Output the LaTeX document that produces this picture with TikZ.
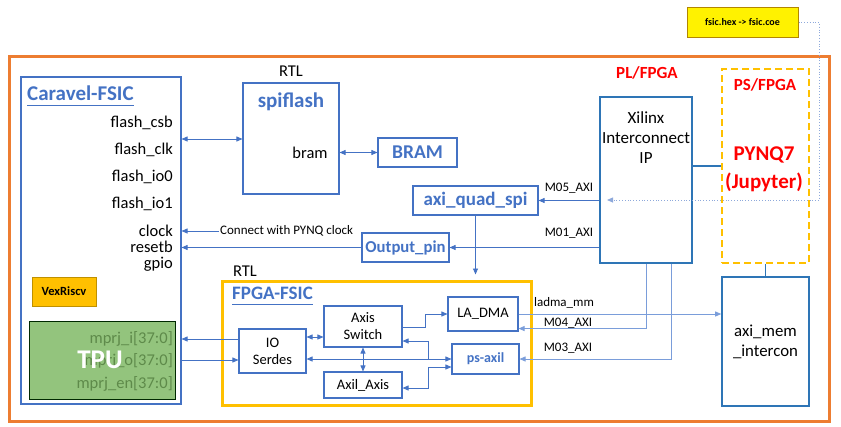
\documentclass[tikz,border=0pt]{standalone}
\usepackage{fontspec}
\setmainfont{Carlito}
\usepackage{tikz}
\usetikzlibrary{arrows.meta,positioning}
\definecolor{blu}{HTML}{4472C4}
\definecolor{dblu}{HTML}{2E75B6}
\definecolor{lblu}{HTML}{7A9DDA}
\definecolor{dotblu}{HTML}{8EA9DB}
\definecolor{org}{HTML}{ED7D31}
\definecolor{gold}{HTML}{FFC000}
\definecolor{tpug}{HTML}{93C47D}
\definecolor{tpuk}{HTML}{5E8A4A}
\definecolor{rd}{HTML}{FF0000}

\begin{document}
\begin{tikzpicture}[x=1pt,y=-1pt,>={Triangle[length=6pt,width=5pt]},
  box/.style={draw=blu,line width=1.1pt,inner sep=0pt,align=center,font=\fontsize{14.5}{17}\selectfont},
  bigbox/.style={draw=dblu,line width=1.6pt,inner sep=0pt,align=center,font=\fontsize{16.8}{20}\selectfont},
  wire/.style={draw=blu,line width=0.8pt},
  lwire/.style={draw=lblu,line width=0.8pt},
  lbl/.style={inner sep=0pt,font=\fontsize{16.5}{20}\selectfont},
  sm/.style={inner sep=1pt,font=\fontsize{13}{15}\selectfont},
  ttl/.style={inner sep=0pt,text=blu,font=\bfseries\fontsize{20}{24}\selectfont},
  rtxt/.style={inner sep=0pt,text=rd,font=\bfseries\fontsize{17}{20}\selectfont}]
  \useasboundingbox (0,0) rectangle (841,426);
  \node[draw=org,line width=3pt,minimum width=820,minimum height=365] (outer) at (419,238.5) {};

  \node[box,minimum width=160,minimum height=327] (car) at (101,240.5) {};
  \node[ttl,anchor=west,font=\bfseries\fontsize{21}{24}\selectfont] (cart) at (27,93) {Caravel-FSIC};
  \draw[blu,line width=0.6pt] ([yshift=-5pt]cart.south west) -- ([yshift=-5pt]cart.south east);
  \node[lbl,anchor=east] (csb) at (173,123) {flash\_csb};
  \node[lbl,anchor=east] (clk) at (173,150) {flash\_clk};
  \node[lbl,anchor=east] (io0) at (173,177) {flash\_io0};
  \node[lbl,anchor=east] (io1) at (173,204) {flash\_io1};
  \node[lbl,anchor=east] (clock) at (173,231) {clock};
  \node[lbl,anchor=east] (rst) at (173,247) {resetb};
  \node[lbl,anchor=east] (gpio) at (173,264) {gpio};
  \node[draw=gold!75!black,line width=0.6pt,fill=gold,minimum width=64,minimum height=29,inner sep=0pt,
    font=\bfseries\fontsize{12.5}{15}\selectfont] (vex) at (64,291.5) {VexRiscv};
  \node[draw=black!60!green!40!black,line width=1pt,fill=tpug,minimum width=146,minimum height=78] (tpu) at (102,360) {};
  \node[lbl,anchor=east,text=tpuk] (mi) at (173,339) {mprj\_i[37:0]};
  \node[lbl,anchor=east,text=tpuk] (mo) at (173,361) {mprj\_o[37:0]};
  \node[lbl,anchor=east,text=tpuk] (me) at (173,384) {mprj\_en[37:0]};
  \node[inner sep=0pt,text=white,font=\bfseries\fontsize{27}{30}\selectfont] (tputxt) at (100,360) {TPU};

  \node[box,minimum width=96,minimum height=111] (spi) at (291,138.5) {};
  \node[lbl] (rtl1) at (291,71) {RTL};
  \node[ttl,font=\bfseries\fontsize{21}{24}\selectfont] (spit) at (291,102) {spiflash};
  \node[lbl] (bramt) at (310,153) {bram};
  \node[box,minimum width=79,minimum height=29,text=blu,font=\bfseries\fontsize{19.5}{22}\selectfont] (bram) at (417.5,152.5) {BRAM};
  \node[box,minimum width=125,minimum height=29,text=blu,font=\bfseries\fontsize{19}{22}\selectfont] (quad) at (475.5,200.5) {axi\_quad\_spi};
  \node[box,minimum width=87,minimum height=29,text=blu,font=\bfseries\fontsize{16.7}{20}\selectfont] (opin) at (405.5,247.5) {Output\_pin};

  \node[bigbox,minimum width=92,minimum height=166] (xil) at (646,180) {};
  \node[inner sep=0pt,align=center,font=\fontsize{17}{20}\selectfont] (xilt) at (646,138) {Xilinx\\Interconnect\\IP};
  \node[rtxt] (pl) at (647,73) {PL/FPGA};
  \node[draw=gold,line width=1.8pt,dash pattern=on 7pt off 4pt,minimum width=87,minimum height=194] (ps) at (765.5,166) {};
  \node[rtxt] (pst) at (765,85) {PS/FPGA};
  \node[rtxt,align=center,font=\bfseries\fontsize{21}{28}\selectfont] (pynq) at (764,169) {PYNQ7\\(Jupyter)};
  \node[bigbox,minimum width=87,minimum height=129] (mem) at (765.5,341.5) {axi\_mem\\\_intercon};
  \node[draw=gold!70!black,line width=1pt,fill=yellow,minimum width=111,minimum height=30,inner sep=0pt,
    font=\bfseries\fontsize{10}{12}\selectfont] (hex) at (742.5,22) {fsic.hex -> fsic.coe};

  \node[draw=gold,line width=3pt,minimum width=309,minimum height=124] (fsic) at (376.5,343) {};
  \node[lbl] (rtl2) at (245,271) {RTL};
  \node[ttl,anchor=west,font=\bfseries\fontsize{19}{22}\selectfont] (fsict) at (232,293) {FPGA-FSIC};
  \draw[blu,line width=0.6pt] ([yshift=-5pt]fsict.south west) -- ([yshift=-5pt]fsict.south east);
  \node[box,minimum width=67,minimum height=44,font=\fontsize{14.5}{17}\selectfont] (io) at (272.5,351) {IO\\Serdes};
  \node[box,minimum width=78,minimum height=41] (sw) at (363,326.5) {Axis\\Switch};
  \node[box,minimum width=78,minimum height=26] (axil) at (363,385) {Axil\_Axis};
  \node[box,minimum width=70,minimum height=34] (dma) at (483,314) {LA\_DMA};
  \node[box,minimum width=67,minimum height=30,text=blu,font=\bfseries\fontsize{14}{17}\selectfont] (psx) at (485.5,359) {ps-axil};

  \node[sm,anchor=west] (cwp) at (219,231) {Connect with PYNQ clock};
  \node[sm] (m05) at (569,188) {M05\_AXI};
  \node[sm] (m01) at (569,233) {M01\_AXI};
  \node[sm] (ladma) at (564,303) {ladma\_mm};
  \node[sm] (m04) at (568,323) {M04\_AXI};
  \node[sm] (m03) at (568,348) {M03\_AXI};

  \draw[wire,<->] (car.east |- 0,139) -- (spi.west |- 0,139);
  \draw[wire,<->] (spi.east |- bram.west) -- (bram.west);
  \draw[wire,->] (cwp.west) -- (car.east |- cwp.west);
  \draw[wire,->] (opin.west) -- (car.east |- opin.west);
  \draw[wire,->] (xil.west |- quad.east) -- (quad.east);
  \draw[wire,->] (xil.west |- opin.east) -- (opin.east);
  \draw[wire,->,shorten >=5pt] (quad.south) -- (quad.south |- fsic.north);
  \draw[draw=dblu,line width=1.2pt] (xil.east |- 0,166) -- (ps.west |- 0,166);
  \draw[draw=dblu,line width=1.2pt] (ps.south) -- (mem.north);
  \coordinate (dotend) at (607,200);
  \draw[draw=dotblu,line width=0.8pt,dotted,->] (hex.east) -| (819,200) -- (dotend);
  \draw[lwire,->] (dma.east) -- (mem.west |- dma.east);
  \draw[lwire,->] (xil.south) |- ([yshift=3pt]dma.south east);
  \draw[lwire,->] ([xshift=25pt]xil.south) |- (psx.east);
  \draw[wire,->] (io.west |- 0,339) -- (car.east |- 0,339);
  \draw[wire,->] (car.east |- 0,360) -- (io.west |- 0,360);

  \draw[wire,<->] (io.east |- 0,337) -- (sw.west |- 0,337);
  \draw[wire,<->] (sw.south) -- (axil.north);
  \draw[wire,->] (sw.east |- 0,327) -- (425,327) |- (dma.west);
  \draw[wire,<->] (io.east |- psx.west) -- (psx.west);
  \draw[wire,->] (428,359) |- (sw.east |- 0,341);
  \draw[wire,<->] (axil.east |- 0,388) -| (428,367) -- (psx.west |- 0,367);
\end{tikzpicture}
\end{document}
